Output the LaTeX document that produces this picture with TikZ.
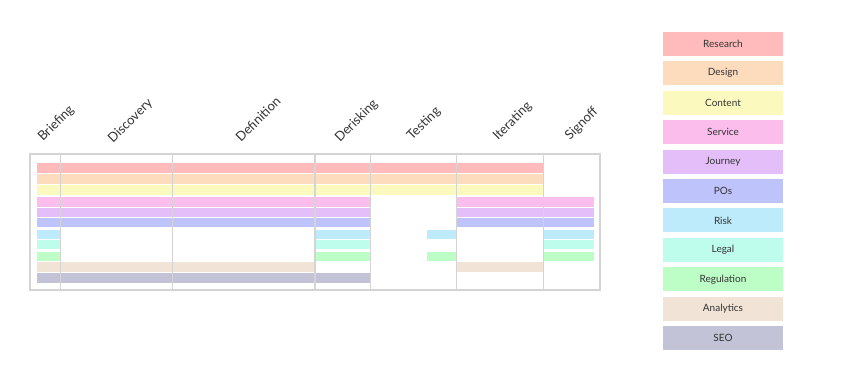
\documentclass[tikz,border=0pt]{standalone}
\usepackage{fontspec}
\setmainfont{Lato}
\usepackage{tikz}

\definecolor{research}{HTML}{FFBBBB}
\definecolor{design}{HTML}{FDDBBD}
\definecolor{content}{HTML}{FCF9BE}
\definecolor{service}{HTML}{FBBDEB}
\definecolor{journey}{HTML}{E4BEF8}
\definecolor{poscol}{HTML}{BEC3FB}
\definecolor{risk}{HTML}{BDEBFB}
\definecolor{legal}{HTML}{BEFDEC}
\definecolor{regulation}{HTML}{BDFDC6}
\definecolor{analytics}{HTML}{F1E3D5}
\definecolor{seo}{HTML}{C2C3D6}
\definecolor{linegray}{HTML}{D4D4D4}
\definecolor{labelgray}{HTML}{333333}

% one coloured stretch of a track: colour, row, from, to
\newcommand{\track}[4]{\fill[#1] (#3,#2-4.7) rectangle (#4,#2+4.7);}

\tikzset{
  phase/.style={font=\fontsize{13}{15}\selectfont, text=labelgray, rotate=45, anchor=base west, inner sep=0pt},
  divider/.style={draw=linegray, line width=1.2pt},
  key/.style={minimum width=120pt, minimum height=24pt, inner sep=0pt, font=\fontsize{10}{12}\selectfont, text=labelgray}
}

\begin{document}
\begin{tikzpicture}[x=1pt,y=-1pt]
    \useasboundingbox (0,0) rectangle (842,383);

    % phase names
    \node[phase] (briefing) at (43,142) {Briefing};
    \node[phase] (discovery) at (113,144) {Discovery};
    \node[phase] (definition) at (241,143) {Definition};
    \node[phase] (derisking) at (340,143) {Derisking};
    \node[phase] (testing) at (412,141) {Testing};
    \node[phase] (iterating) at (498,141) {Iterating};
    \node[phase] (signoff) at (570,141) {Signoff};

    % tracks
    \track{research}{168}{37}{543.3}
    \track{design}{179}{37}{543.3}
    \track{content}{190}{37}{543.3}
    \foreach \row/\col in {202/service,212.3/journey,222.7/poscol}{
      \track{\col}{\row}{37}{370.7}
      \track{\col}{\row}{456.7}{594}
    }
    \foreach \row/\col in {234.5/risk,244.7/legal,256.3/regulation}{
      \track{\col}{\row}{37}{60.7}
      \track{\col}{\row}{315}{370.7}
      \track{\col}{\row}{543.3}{594}
    }
    \track{risk}{234.5}{427}{456.7}
    \track{regulation}{256.3}{427}{456.7}
    \track{analytics}{266.8}{37}{315}
    \track{analytics}{266.8}{456.7}{543.3}
    \track{seo}{278}{37}{370.7}

    % frame and phase dividers
    \draw[divider] (30,154) rectangle (600,290);
    \foreach \x in {60.7,172.7,315,370.7,456.7,543.3}
      \draw[divider] (\x,154) -- (\x,290);

    % legend
    \foreach \name/\col [count=\i from 0] in {Research/research,Design/design,Content/content,Service/service,Journey/journey,POs/poscol,Risk/risk,Legal/legal,Regulation/regulation,Analytics/analytics,SEO/seo}
      \node[key, fill=\col] (key-\col) at (723,43.7+29.45*\i) {\name};
\end{tikzpicture}
\end{document}
